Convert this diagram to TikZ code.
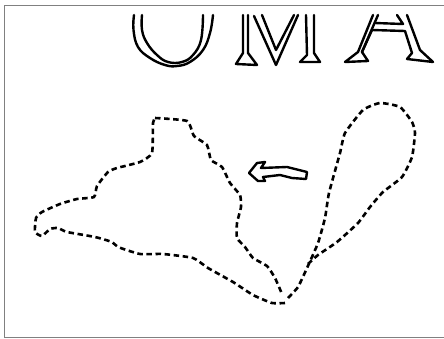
\documentclass[tikz,border=0pt]{standalone}
\begin{document}
\begin{tikzpicture}[x=1pt,y=-1pt,
  frameline/.style={draw=black!50,line width=1pt},
  ink/.style={draw=black,line width=2.4pt,line join=round,line cap=round},
  sketchdash/.style={draw=black,line width=2.6pt,dash pattern=on 5.5pt off 3.6pt},
  curvy/.style={smooth,tension=0.3},
  round letter/.style={smooth,tension=0.7}]
\useasboundingbox (0,0) rectangle (444,339);
\fill[white] (0,0) rectangle (444,339);
\draw[frameline] (4.5,5.5) -- (445,5.5);
\draw[frameline] (4.5,5.5) -- (4.5,337.5) -- (445,337.5);
% U
\draw[ink] plot[round letter] coordinates {(134,15) (133.5,30) (138,47) (150,58) (165,65) (177,66) (190,62) (203,50) (210,33) (213,15)};
\draw[ink] plot[round letter] coordinates {(142,15) (142,30) (147,43) (157,55) (168,62) (182,62) (193,55) (201,40) (203,15)};
% M
\draw[ink] (243,15) -- (243,53) -- (236,64) -- (257,65) -- (248,53) -- (248,15);
\draw[ink] (254,16) -- (276,65) -- (298,15);
\draw[ink] (262,15) -- (276,50) -- (294,15);
\draw[ink] (306,15) -- (307,55) -- (300,62) -- (320,62) -- (314,53) -- (314,15);
% A
\draw[ink] (373,15) -- (358,52) -- (345,62) -- (368,61) -- (362,52) -- (372,30) -- (405,31) -- (412,53) -- (407,59) -- (433,62) -- (420,50) -- (407,15);
\draw[ink] (378,15) -- (362,52);
\draw[ink] (375,23) -- (403,24) -- (397,15);
% arrow
\draw[ink] (249,173) -- (257,163) -- (265,162) -- (261,168) -- (287,167) -- (307,172) -- (306,179) -- (292,178) -- (280,175) -- (263,177) -- (265,181) -- (258,181) -- cycle;
% outline
\draw[sketchdash] plot[curvy] coordinates {(155,118) (187,121) (194,136) (207,145) (211,160) (222,167) (230,183) (240,195) (241,207) (237,223) (237,238) (245,247) (253,258) (267,266) (275,278) (282,294)};
\draw[sketchdash] plot[curvy] coordinates {(288,298) (298,287) (307,268) (318,243) (325,218) (329,193) (340,153) (345,133) (363,110) (380,103) (400,107) (412,122) (415,133) (412,157) (402,177) (383,192) (370,207) (358,223) (337,242) (318,255) (308,264)};
\draw[sketchdash] plot[curvy] coordinates {(285,303) (272,303) (253,295) (233,282) (208,268) (193,258) (163,254) (140,254) (118,247) (112,242) (95,237) (67,232) (58,228) (50,229) (42,236) (35,232) (36,218) (42,212) (60,204) (77,199) (94,197) (97,186) (108,172) (117,168) (140,162) (152,153) (153,123) (155,118)};
\end{tikzpicture}
\end{document}
